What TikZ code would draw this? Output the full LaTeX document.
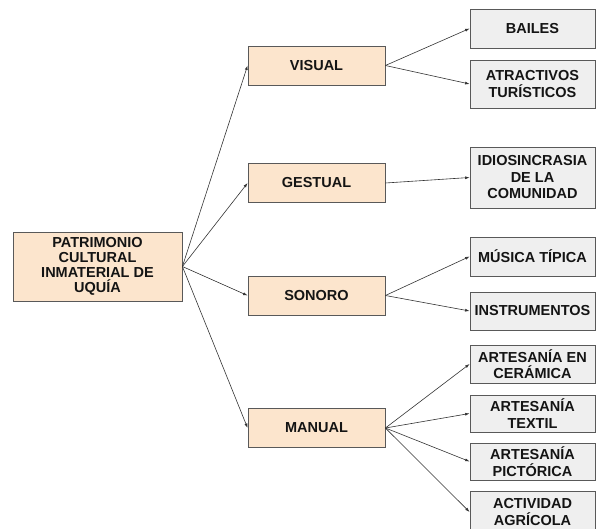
\documentclass[tikz,border=0pt]{standalone}
\usepackage{fontspec}
\setmainfont{Liberation Sans}
\usetikzlibrary{arrows.meta}

\definecolor{peach}{HTML}{FCE5CD}
\definecolor{leafgray}{HTML}{EFEFEF}
\definecolor{edgegray}{HTML}{595959}

\begin{document}
\begin{tikzpicture}[x=1pt, y=-1pt,
  every node/.style={font=\fontsize{14.5}{16.5}\selectfont\bfseries, text=black!92},
  arr/.style={-{Latex[length=4.5pt, width=3pt]}, line width=0.6pt, black!80},
  rootbox/.style={draw=edgegray, fill=peach, line width=0.8pt, inner sep=0pt,
                  minimum width=169pt, minimum height=69pt, align=center,
                  font=\fontsize{14.5}{15.2}\selectfont\bfseries},
  midbox/.style={draw=edgegray, fill=peach, line width=0.8pt, inner sep=0pt,
                 minimum width=137pt, minimum height=39pt, align=center},
  leafbox/.style={draw=edgegray, fill=leafgray, line width=0.8pt, inner sep=0pt,
                  minimum width=125pt, align=center}
]
\useasboundingbox (0,0) rectangle (597,529);

% ---- Root ----
\node[rootbox] (root) at (97.5, 266.5)
  {PATRIMONIO\\CULTURAL\\INMATERIAL DE\\UQUÍA};

% ---- Middle column ----
\node[midbox] (vis) at (316.5, 65.5)  {VISUAL};
\node[midbox] (ges) at (316.5, 183)   {GESTUAL};
\node[midbox] (son) at (316.5, 295.5) {SONORO};
\node[midbox] (man) at (316.5, 428)   {MANUAL};

% ---- Right column ----
\node[leafbox, minimum height=39pt] (bai) at (532.5, 28.5)  {BAILES};
\node[leafbox, minimum height=48pt] (atr) at (532.5, 84)    {ATRACTIVOS\\TURÍSTICOS};
\node[leafbox, minimum height=61pt] (idi) at (532.5, 177.5) {IDIOSINCRASIA\\DE LA\\COMUNIDAD};
\node[leafbox, minimum height=39pt] (mus) at (532.5, 256.5) {MÚSICA TÍPICA};
\node[leafbox, minimum height=38pt] (ins) at (532.5, 311)   {INSTRUMENTOS};
\node[leafbox, minimum height=38pt] (cer) at (532.5, 364)   {ARTESANÍA EN\\CERÁMICA};
\node[leafbox, minimum height=37pt] (tex) at (532.5, 413.5) {ARTESANÍA\\TEXTIL};
\node[leafbox, minimum height=37pt] (pic) at (532.5, 461.5) {ARTESANÍA\\PICTÓRICA};
\node[leafbox, minimum height=42pt] (agr) at (532.5, 512)   {ACTIVIDAD\\AGRÍCOLA};

% ---- Arrows: root -> middle ----
\foreach \j in {vis, ges, son, man}
  \draw[arr] (root.east) -- (\j.west);

% ---- Arrows: middle -> right ----
\foreach \i/\j in {vis/bai, vis/atr, ges/idi, son/mus, son/ins,
                   man/cer, man/tex, man/pic, man/agr}
  \draw[arr] (\i.east) -- (\j.west);

\end{tikzpicture}
\end{document}
